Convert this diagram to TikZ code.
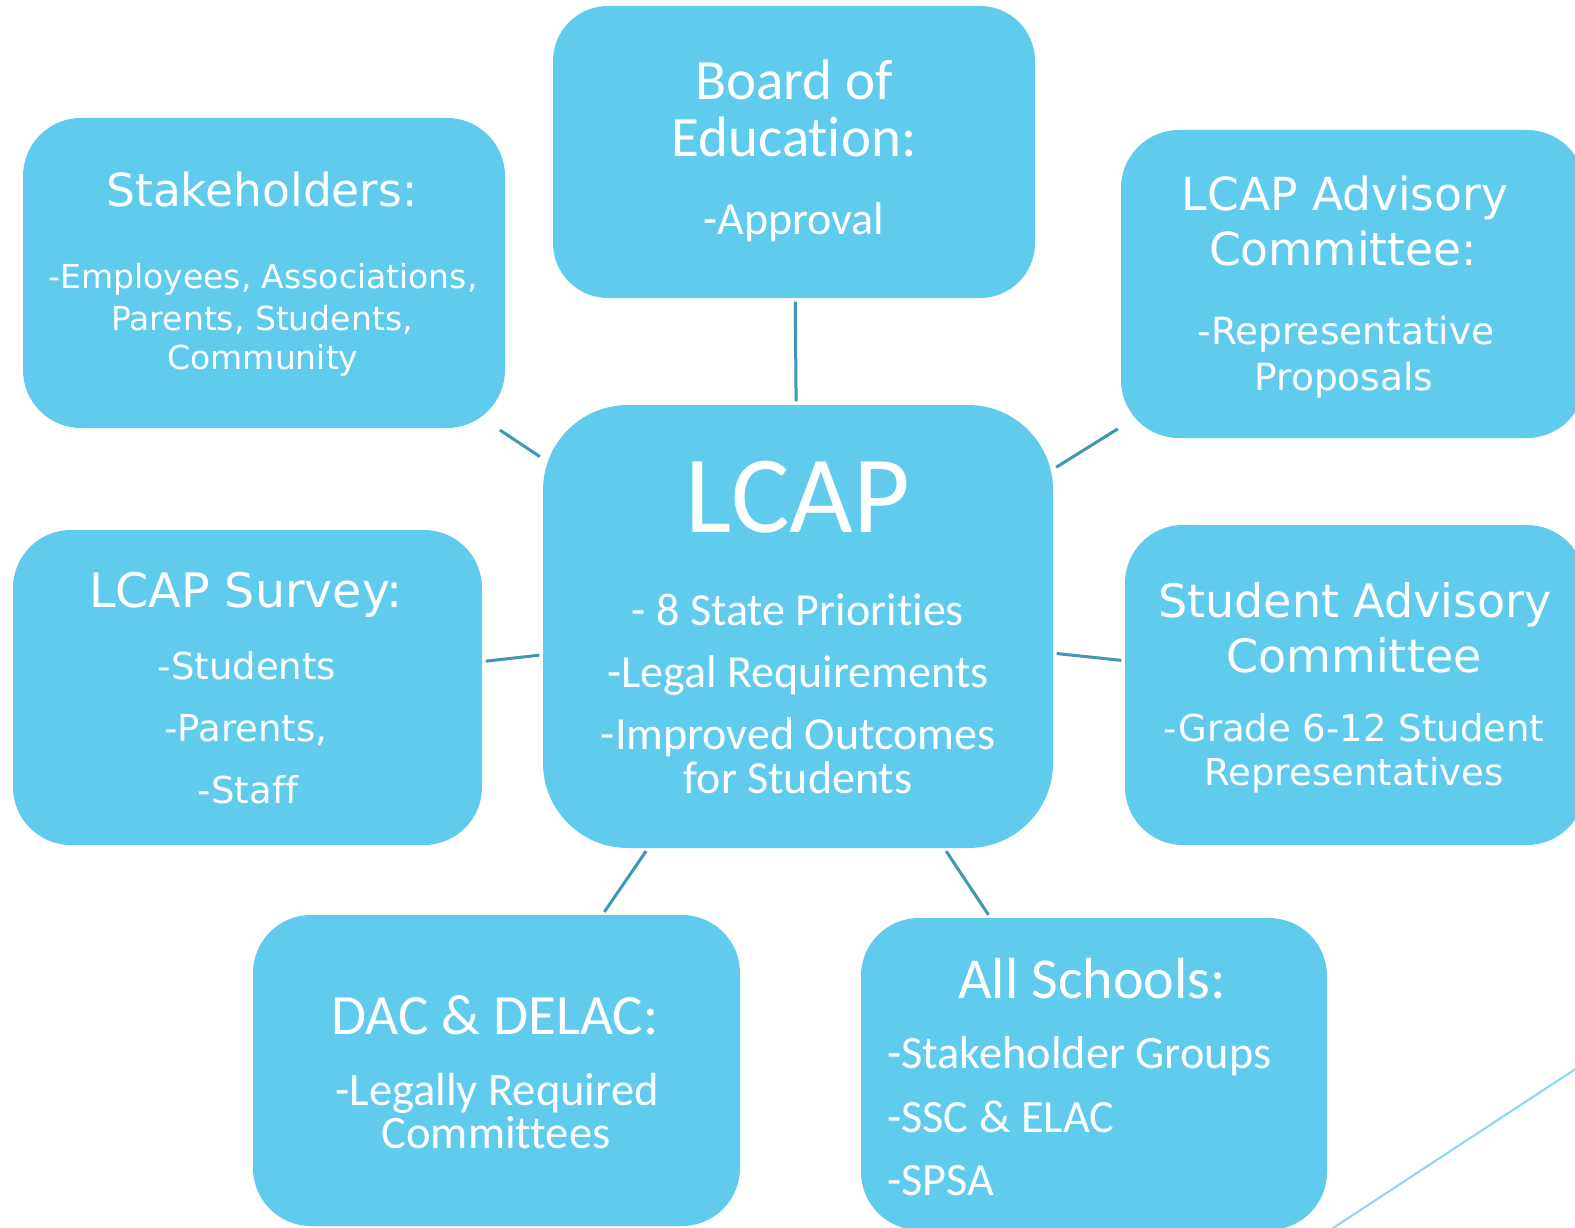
\documentclass[tikz,border=0pt]{standalone}
\usepackage{fontspec}
\setmainfont{Carlito}[Ligatures={NoCommon}]
\newfontfamily\dv{DejaVu Sans}[Ligatures={NoCommon}]
\definecolor{boxfill}{HTML}{61CBEE}
\definecolor{linkc}{HTML}{4196B5}
\definecolor{decoc}{HTML}{8DD4EE}
\tikzset{
  box/.style={rectangle, rounded corners=#1, fill=boxfill, draw=none, inner sep=0pt},
  link/.style={draw=linkc, line width=3pt, shorten <=3.5pt, shorten >=3.5pt},
  txt/.style={anchor=base, inner sep=0pt, text=white},
  txtl/.style={anchor=base west, inner sep=0pt, text=white}
}
\newcommand{\fs}[1]{\fontsize{#1}{#1}\selectfont}
\begin{document}
\begin{tikzpicture}[x=1pt,y=-1pt]
\useasboundingbox (0,0) rectangle (1575,1228);
\fill[white] (0,0) rectangle (1575,1228);
\clip (0,0) rectangle (1575,1228);
% boxes
\node[box=55pt, minimum width=482pt, minimum height=292pt] (board) at (794,152) {};
\node[box=58pt, minimum width=482pt, minimum height=310pt] (stake) at (264,273) {};
\node[box=58pt, minimum width=464pt, minimum height=308pt] (adv) at (1353,284) {};
\node[box=58pt, minimum width=469pt, minimum height=315pt] (survey) at (247.5,687.5) {};
\node[box=58pt, minimum width=460pt, minimum height=320pt] (stud) at (1355,685) {};
\node[box=85pt, minimum width=510pt, minimum height=443pt] (lcap) at (798,626.5) {};
\node[box=58pt, minimum width=487pt, minimum height=311pt] (dac) at (496.5,1070.5) {};
\node[box=58pt, minimum width=466pt, minimum height=312pt] (all) at (1094,1074) {};
% connectors
\draw[link] (board) -- (lcap);
\draw[link] (stake) -- (lcap);
\draw[link] (adv) -- (lcap);
\draw[link] (survey) -- (lcap);
\draw[link] (stud) -- (lcap);
\draw[link] (dac) -- (lcap);
\draw[link] (all) -- (lcap);
% decorative line
\coordinate (d1) at (1330,1230);
\coordinate (d2) at (1580,1066);
\draw[decoc, line width=2pt] (d1) -- (d2);
% Board of Education
\node[txt, font=\fs{57}] (b1) at (794,100) {Board of};
\node[txt, font=\fs{57}] (b2) at (794,157) {Education:};
\node[txt, font=\fs{46}] (b3) at (794,234) {-Approval};
% Stakeholders
\node[txt, font=\dv\fs{45.5}] (s1) at (262,206) {Stakeholders:};
\node[txt, font=\dv\fs{33}] (s2) at (263,288) {-Employees, Associations,};
\node[txt, font=\dv\fs{33}] (s3) at (262,330) {Parents, Students,};
\node[txt, font=\dv\fs{33}] (s4) at (263,369) {Community};
% LCAP Advisory Committee
\node[txt, font=\dv\fs{45.5}] (a1) at (1345,210) {LCAP Advisory};
\node[txt, font=\dv\fs{45.5}] (a2) at (1343,265) {Committee:};
\node[txt, font=\dv\fs{37.5}] (a3) at (1346,344) {-Representative};
\node[txt, font=\dv\fs{37.5}] (a4) at (1344,390) {Proposals};
% Student Advisory Committee
\node[txt, font=\dv\fs{46}] (c1) at (1355,617) {Student Advisory};
\node[txt, font=\dv\fs{46}] (c2) at (1354,672) {Committee};
\node[txt, font=\dv\fs{37}] (c3) at (1354,741) {-Grade 6-12 Student};
\node[txt, font=\dv\fs{37}] (c4) at (1354,785) {Representatives};
% LCAP Survey
\node[txt, font=\dv\fs{47.5}] (v1) at (246,607) {LCAP Survey:};
\node[txt, font=\dv\fs{37}] (v2) at (247,679) {-Students};
\node[txt, font=\dv\fs{37}] (v3) at (246,741) {-Parents,};
\node[txt, font=\dv\fs{37}] (v4) at (248,803) {-Staff};
% LCAP centre
\node[txt, font=\fs{110}] (l1) at (798,532) {LCAP};
\node[txt, font=\fs{46}] (l2) at (798,625) {- 8 State Priorities};
\node[txt, font=\fs{46}] (l3) at (798,687) {-Legal Requirements};
\node[txt, font=\fs{46}] (l4) at (798,749) {-Improved Outcomes};
\node[txt, font=\fs{46}] (l5) at (798,793) {for Students};
% DAC & DELAC
\node[txt, font=\fs{57}] (e1) at (495,1034) {DAC \& DELAC:};
\node[txt, font=\fs{46.5}] (e2) at (497,1105) {-Legally Required};
\node[txt, font=\fs{46.5}] (e3) at (496,1148) {Committees};
% All Schools
\node[txt, font=\fs{58}] (h1) at (1092,998) {All Schools:};
\node[txtl, font=\fs{46.3}] (h2) at (887,1068) {-Stakeholder Groups};
\node[txtl, font=\fs{46.3}] (h3) at (887,1132) {-SSC \& ELAC};
\node[txtl, font=\fs{46.3}] (h4) at (887,1195) {-SPSA};
\end{tikzpicture}
\end{document}
